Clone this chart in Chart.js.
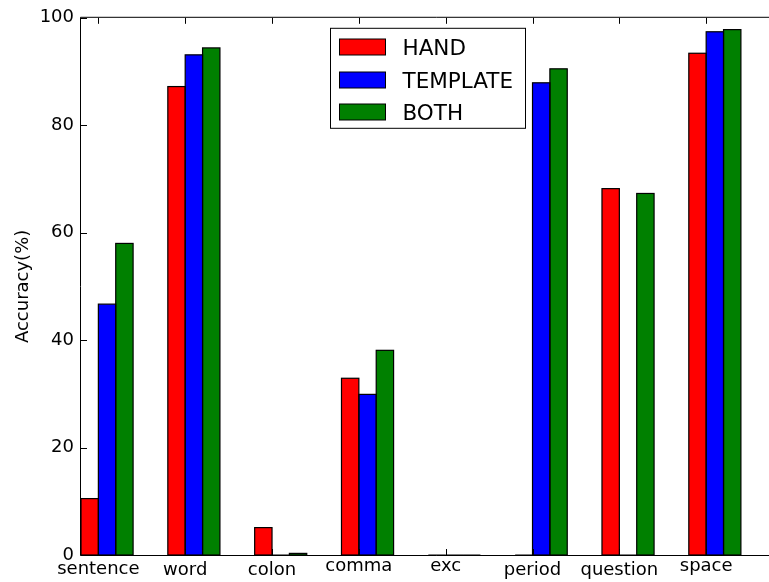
<!DOCTYPE html>
<html>
<head>
<meta charset="utf-8">
<script src="https://cdn.jsdelivr.net/npm/chart.js@4/dist/chart.umd.min.js"></script>
<style>
  html, body { margin: 0; padding: 0; background: #fff; overflow: hidden; }
  #wrap { width: 769px; height: 582px; overflow: hidden; position: relative; }
  canvas { display: block; position: absolute; left: 0; top: 0; }
</style>
</head>
<body>
<div id="wrap"><canvas id="c" width="800" height="582" style="width:800px;height:582px"></canvas></div>
<script>
// Per-class accuracy (%) for the three training setups
const categories = ['sentence', 'word', 'colon', 'comma', 'exc', 'period', 'question', 'space'];
const seriesNames = ['HAND', 'TEMPLATE', 'BOTH'];
const hand     = [10.5, 87.2, 5.1, 32.9, 0, 0,    68.2, 93.4];
const template = [46.7, 93.1, 0,   29.9, 0, 87.9, 0,    97.4];
const both     = [58.0, 94.4, 0.3, 38.1, 0, 90.5, 67.3, 97.8];
const yTicks = [0, 20, 40, 60, 80, 100];

const colors = ['#ff0000', '#0000ff', '#008000'];
const FONT = "'DejaVu Sans', sans-serif";

// each group sits just right of its category tick: bars span [i-0.2, i+0.4]
const toPoints = vals => vals.map((v, i) => ({ x: i + 0.1, y: v }));

const datasets = [hand, template, both].map((vals, k) => ({
  label: seriesNames[k],
  data: toPoints(vals),
  backgroundColor: colors[k],
  borderWidth: 0,
  inflateAmount: 0,
  categoryPercentage: 0.6,
  barPercentage: 1.0
}));

// bar edges stroked on the boundary, frame, inward ticks, labels, legend
const decorations = {
  id: 'decorations',
  afterDatasetsDraw(chart) {
    const ctx = chart.ctx;
    const { left, top, right, bottom } = chart.chartArea;
    const xs = chart.scales.x, ys = chart.scales.y;
    ctx.save();
    ctx.strokeStyle = '#000';

    // black edge around every bar, centred on its outline
    ctx.lineWidth = 1.2;
    chart.data.datasets.forEach((ds, k) => {
      chart.getDatasetMeta(k).data.forEach(el => {
        const p = el.getProps(['x', 'y', 'base', 'width'], true);
        const x0 = p.x - p.width / 2;
        const y0 = Math.min(p.y, p.base);
        ctx.strokeRect(x0, y0, p.width, Math.abs(p.base - p.y));
      });
    });

    ctx.lineWidth = 1;
    // axes frame
    ctx.beginPath();
    ctx.moveTo(right, top - 0.5);
    ctx.lineTo(left - 0.5, top - 0.5);
    ctx.lineTo(left - 0.5, bottom + 0.5);
    ctx.lineTo(right, bottom + 0.5);
    ctx.stroke();

    // tick marks pointing into the plot
    const tl = 6;
    ctx.beginPath();
    yTicks.forEach(v => {
      const y = Math.round(ys.getPixelForValue(v)) + 0.5;
      ctx.moveTo(left, y); ctx.lineTo(left + tl, y);
    });
    categories.forEach((c, i) => {
      const x = Math.round(xs.getPixelForValue(i)) + 0.5;
      ctx.moveTo(x, bottom); ctx.lineTo(x, bottom - tl);
      ctx.moveTo(x, top); ctx.lineTo(x, top + tl);
    });
    ctx.stroke();

    // category labels, top of glyphs aligned just under the axis
    ctx.fillStyle = '#000';
    ctx.font = '18px ' + FONT;
    ctx.textAlign = 'center';
    ctx.textBaseline = 'alphabetic';
    categories.forEach((c, i) => {
      const m = ctx.measureText(c);
      const x = xs.getPixelForValue(i);
      ctx.fillText(c, x, bottom + 6 + m.actualBoundingBoxAscent);
    });

    // legend
    const bx = left + 249.5, by = top + 10.5, bw = 195, bh = 100;
    ctx.fillStyle = '#fff';
    ctx.fillRect(bx, by, bw, bh);
    ctx.strokeRect(bx, by, bw, bh);
    ctx.font = '21.5px ' + FONT;
    ctx.textAlign = 'left';
    chart.data.datasets.forEach((ds, k) => {
      const py = by + 11 + k * 32.3;
      ctx.fillStyle = ds.backgroundColor;
      ctx.fillRect(bx + 9, Math.round(py), 46, 16);
      ctx.strokeRect(bx + 9, Math.round(py), 46, 16);
      ctx.fillStyle = '#000';
      ctx.fillText(ds.label, bx + 72, py + 16);
    });
    ctx.restore();
  }
};

new Chart(document.getElementById('c'), {
  type: 'bar',
  data: { datasets },
  options: {
    responsive: false,
    animation: false,
    devicePixelRatio: 1,
    layout: { padding: { top: 17, bottom: 27, right: 7, left: 0 } },
    plugins: { legend: { display: false }, tooltip: { enabled: false } },
    scales: {
      x: {
        type: 'linear',
        min: -0.2,
        max: 8.0,
        offset: false,
        display: false,
        afterBuildTicks: s => { s.ticks = categories.map((c, i) => ({ value: i })); }
      },
      y: {
        min: 0,
        max: 100,
        afterBuildTicks: s => { s.ticks = yTicks.map(v => ({ value: v })); },
        afterFit: s => { s.width = 81; },
        grid: { display: false, drawTicks: false },
        border: { display: false },
        ticks: {
          color: '#000',
          padding: 7,
          font: { family: FONT, size: 18 }
        },
        title: {
          display: true,
          text: 'Accuracy(%)',
          color: '#000',
          padding: { top: 13, bottom: 0 },
          font: { family: FONT, size: 18 }
        }
      }
    }
  },
  plugins: [decorations]
});
</script>
</body>
</html>
